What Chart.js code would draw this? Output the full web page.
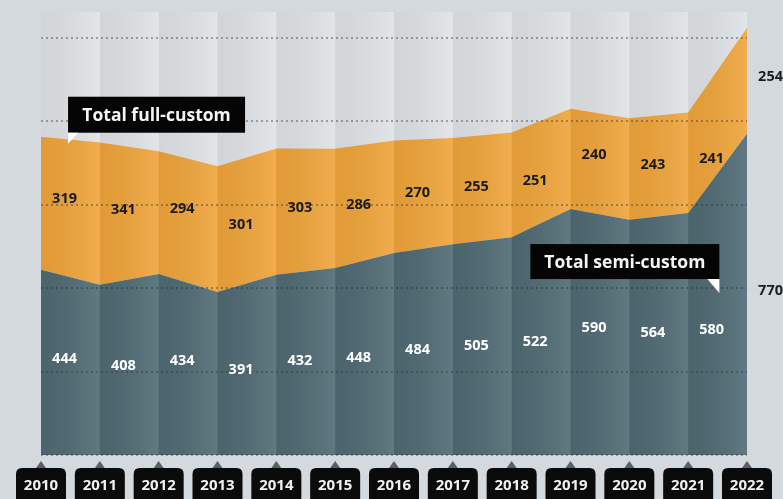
<!DOCTYPE html>
<html>
<head>
<meta charset="utf-8">
<script src="https://cdn.jsdelivr.net/npm/chart.js@4.4.1/dist/chart.umd.min.js"></script>
<style>
body{margin:0;background:#d3d9dd;}
#wrap{width:783px;height:499px;position:relative;}
</style>
</head>
<body>
<div id="wrap"><canvas id="chart"></canvas></div>
<script>
// ===== DATA =====
const years = ["2010","2011","2012","2013","2014","2015","2016","2017","2018","2019","2020","2021","2022"]
const semiCustom = [444,408,434,391,432,448,484,505,522,590,564,580,770]
const fullCustom = [319,341,294,301,303,286,270,255,251,240,243,241,254]
const gridValues = [0,200,400,600,800,1000]
const yMax = 1062

const FONT = "'Open Sans', sans-serif"

function roundRect(ctx,x,y,w,h,r){
ctx.beginPath()
ctx.moveTo(x+r,y)
ctx.lineTo(x+w-r,y)
ctx.quadraticCurveTo(x+w,y,x+w,y+r)
ctx.lineTo(x+w,y+h-r)
ctx.quadraticCurveTo(x+w,y+h,x+w-r,y+h)
ctx.lineTo(x+r,y+h)
ctx.quadraticCurveTo(x,y+h,x,y+h-r)
ctx.lineTo(x,y+r)
ctx.quadraticCurveTo(x,y,x+r,y)
ctx.closePath()
}

// ===== BACKGROUND =====
const backdrop = {
id:"backdrop",
beforeDraw(chart){
const {ctx,chartArea:a} = chart
ctx.save()
ctx.fillStyle = "#d3d9dd"
ctx.fillRect(0,0,chart.width,chart.height)
ctx.fillStyle = "#dfe3e6"
ctx.fillRect(a.left,a.top,a.right-a.left,a.bottom-a.top)
ctx.restore()
}
}

// ===== OVERLAYS, GRID, LABELS =====
const decor = {
id:"decor",
afterDatasetsDraw(chart){
const {ctx,chartArea:a,scales} = chart
const x = scales.x, y = scales.y
ctx.save()

// column shading
for(let i=0;i<years.length-1;i++){
const x0 = x.getPixelForValue(i), x1 = x.getPixelForValue(i+1)
const g = ctx.createLinearGradient(x0,0,x1,0)
g.addColorStop(0,"rgba(0,0,0,0.06)")
g.addColorStop(1,"rgba(255,255,255,0.10)")
ctx.fillStyle = g
ctx.fillRect(x0,a.top,x1-x0,a.bottom-a.top)
}

// dotted grid
ctx.strokeStyle = "rgba(40,45,50,0.38)"
ctx.lineWidth = 2
ctx.setLineDash([2,3])
gridValues.forEach(v=>{
const py = Math.round(y.getPixelForValue(v))
ctx.beginPath()
ctx.moveTo(a.left,py)
ctx.lineTo(a.right,py)
ctx.stroke()
})
ctx.setLineDash([])

// value labels (last column sits outside the plot, so dark text there)
const colW = x.getPixelForValue(1)-x.getPixelForValue(0)
ctx.font = "bold 14.5px "+FONT
ctx.textAlign = "center"
ctx.textBaseline = "middle"
years.forEach((yr,i)=>{
const px = x.getPixelForValue(i)+colW*0.4
const outside = px > a.right
ctx.fillStyle = outside ? "#1b1b1b" : "#ffffff"
ctx.fillText(semiCustom[i],px,y.getPixelForValue(semiCustom[i]/2)-4)
ctx.fillStyle = "#1b1b1b"
ctx.fillText(fullCustom[i],px,y.getPixelForValue(semiCustom[i]+fullCustom[i]/2)-4)
})

// year tags
ctx.font = "bold 15px "+FONT
years.forEach((yr,i)=>{
const px = x.getPixelForValue(i)
ctx.fillStyle = "#5a5f63"
ctx.beginPath()
ctx.moveTo(px,a.bottom+6)
ctx.lineTo(px+5,a.bottom+13)
ctx.lineTo(px-5,a.bottom+13)
ctx.closePath()
ctx.fill()
ctx.fillStyle = "#0b0b0b"
roundRect(ctx,px-25,a.bottom+13,50,36,6)
ctx.fill()
ctx.fillStyle = "#f2f2f2"
ctx.fillText(yr,px,a.bottom+31)
})

// callouts
function callout(text,bx,by,bw,bh,tipRight){
ctx.fillStyle = "#050505"
ctx.fillRect(bx,by,bw,bh)
ctx.fillStyle = "#ffffff"
ctx.beginPath()
if(tipRight){
ctx.moveTo(bx+bw-12,by+bh)
ctx.lineTo(bx+bw,by+bh)
ctx.lineTo(bx+bw,by+bh+14)
}else{
ctx.moveTo(bx,by+bh)
ctx.lineTo(bx+10,by+bh)
ctx.lineTo(bx,by+bh+11)
}
ctx.closePath()
ctx.fill()
ctx.fillStyle = "#f4f4f4"
ctx.font = "bold 17.5px "+FONT
ctx.fillText(text,bx+bw/2,by+bh/2+1)
}
const fx = x.getPixelForValue(0)+colW*0.46
const fy = y.getPixelForValue(semiCustom[0]+fullCustom[0])+8
callout("Total full-custom",fx,fy-48,177,36,false)
const sx = x.getPixelForValue(11)+colW*0.53
const sy = y.getPixelForValue(semiCustom[11])+80
callout("Total semi-custom",sx-189,sy-49,189,35,true)

ctx.restore()
}
}

// ===== CHART =====
new Chart(document.getElementById("chart"),{
type:"line",
data:{
labels:years,
datasets:[
{
label:"Total semi-custom",
data:semiCustom,
backgroundColor:"#4f6a73",
borderWidth:0,
pointRadius:0,
fill:"origin"
},
{
label:"Total full-custom",
data:fullCustom,
backgroundColor:"#efa43a",
borderWidth:0,
pointRadius:0,
fill:"-1"
}
]
},
options:{
responsive:true,
maintainAspectRatio:false,
animation:false,
layout:{padding:{left:41,right:36,top:12,bottom:44}},
plugins:{legend:{display:false},tooltip:{enabled:false}},
scales:{
x:{display:false,offset:false},
y:{display:false,stacked:true,min:0,max:yMax}
},
elements:{line:{tension:0}}
},
plugins:[backdrop,decor]
})
</script>
</body>
</html>
